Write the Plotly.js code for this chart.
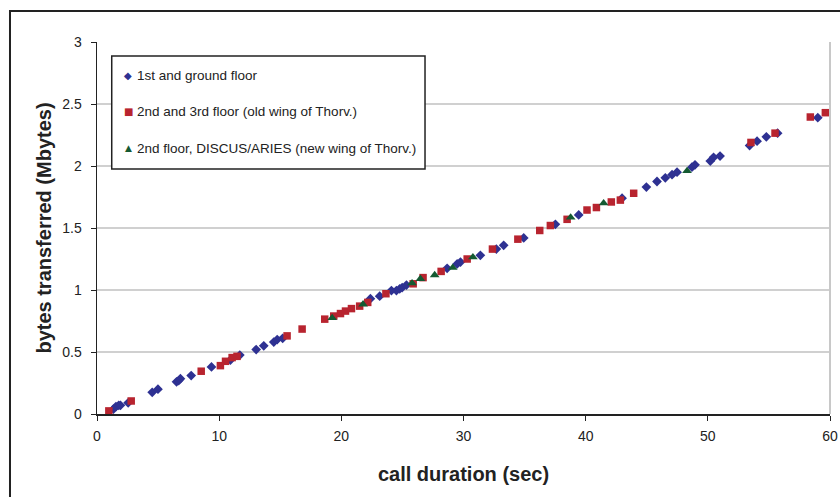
<!DOCTYPE html>
<html>
<head>
<meta charset="utf-8">
<script src="https://cdn.plot.ly/plotly-3.0.1.min.js"></script>
<style>html,body{margin:0;padding:0;background:#fff;}#chart{width:840px;height:497px;}</style>
</head>
<body>
<div id="chart"></div>
<script>
// Series 1: 1st and ground floor
const groundX = [1.35,1.55,1.78,1.92,2.55,4.52,4.99,6.51,6.69,6.83,7.71,9.37,10.92,11.69,13.03,13.65,14.47,14.75,15.2,22.38,23.14,24.1,24.51,24.78,24.98,25.33,28.66,29.48,29.75,31.38,32.69,33.29,34.93,37.52,39.43,42.98,44.97,45.84,46.52,47.07,47.48,48.7,48.95,50.2,50.47,51.0,53.42,54.03,54.79,55.71,59.0];
const groundY = [0.04,0.06,0.07,0.07,0.09,0.175,0.20,0.26,0.27,0.285,0.31,0.38,0.435,0.475,0.52,0.55,0.58,0.60,0.61,0.93,0.95,0.995,0.995,1.01,1.02,1.04,1.175,1.21,1.225,1.28,1.33,1.36,1.42,1.53,1.605,1.74,1.83,1.875,1.905,1.93,1.95,1.99,2.01,2.04,2.07,2.08,2.165,2.20,2.235,2.265,2.39];
// Series 2: 2nd and 3rd floor (old wing)
const oldWingX = [0.97,2.8,8.53,10.1,10.52,11.06,11.46,15.56,16.79,18.64,19.38,19.93,20.34,20.83,21.5,22.16,23.65,25.88,26.69,28.17,30.3,32.37,34.45,36.24,37.11,38.48,40.11,40.88,42.1,42.84,43.93,53.53,55.5,58.39,59.62];
const oldWingY = [0.025,0.105,0.345,0.39,0.425,0.455,0.465,0.63,0.685,0.765,0.79,0.81,0.83,0.85,0.87,0.90,0.97,1.05,1.10,1.15,1.25,1.33,1.41,1.48,1.52,1.57,1.645,1.665,1.71,1.725,1.78,2.19,2.265,2.395,2.43];
// Series 3: 2nd floor, DISCUS/ARIES (new wing)
const newWingX = [19.25,21.78,25.79,26.47,27.64,29.12,30.77,38.77,41.47,48.3];
const newWingY = [0.775,0.885,1.055,1.09,1.12,1.18,1.265,1.585,1.70,1.96];

const seriesNames = ["1st and ground floor","2nd and 3rd floor (old wing of Thorv.)","2nd floor, DISCUS/ARIES (new wing of Thorv.)"];
const seriesColors = ['#2E3192', '#B8242F', '#145A32'];
const legendGlyphs = ['\u25C6', '\u25A0', '\u25B2'];
const xTicks = [0,10,20,30,40,50,60];
const yTicks = [0,0.5,1,1.5,2,2.5,3];
const yTickText = ["0","0.5","1","1.5","2","2.5","3"];

const FONT = "Liberation Sans, Arial, sans-serif";
const traces = [
  {x: groundX, y: groundY, name: seriesNames[0], type: 'scatter', mode: 'markers',
   marker: {symbol: 'diamond', size: 7.5, color: seriesColors[0]}},
  {x: oldWingX, y: oldWingY, name: seriesNames[1], type: 'scatter', mode: 'markers',
   marker: {symbol: 'square', size: 7.5, color: seriesColors[1]}},
  {x: newWingX, y: newWingY, name: seriesNames[2], type: 'scatter', mode: 'markers',
   marker: {symbol: 'triangle-up', size: 8.5, color: seriesColors[2]}}
];

// Legend drawn as a boxed list (paper coordinates)
const legRowY = [0.9094, 0.8126, 0.7142];
const annotations = [];
seriesNames.forEach((name, i) => {
  annotations.push({xref: 'paper', yref: 'paper', x: 0.0423, y: legRowY[i], xanchor: 'center', yanchor: 'middle',
    text: legendGlyphs[i], showarrow: false, font: {family: 'DejaVu Sans', size: i === 2 ? 9 : 10, color: seriesColors[i]}});
  annotations.push({xref: 'paper', yref: 'paper', x: 0.0525, y: legRowY[i], xanchor: 'left', yanchor: 'middle',
    text: name, showarrow: false, font: {family: FONT, size: 13.5, color: '#222'}});
});

const layout = {
  width: 840, height: 497,
  margin: {l: 97, r: 10, t: 42, b: 83},
  paper_bgcolor: '#fff', plot_bgcolor: '#fff',
  font: {family: FONT, color: '#222', size: 14},
  showlegend: false,
  xaxis: {range: [0, 60], tickvals: xTicks, ticktext: xTicks.map(String),
    showgrid: false, zeroline: false, showline: true, linecolor: '#222', linewidth: 1.5,
    ticks: 'outside', ticklen: 5, tickcolor: '#222', tickfont: {size: 14, color: '#222'}, ticklabelstandoff: 4,
    title: {text: 'call duration (sec)', font: {size: 20, color: '#222', family: FONT, weight: 'bold'}, standoff: 23}},
  yaxis: {range: [0, 3], tickvals: yTicks, ticktext: yTickText,
    showgrid: true, gridcolor: '#d0d0d0', gridwidth: 1.5, zeroline: false,
    showline: true, linecolor: '#222', linewidth: 1.5,
    ticks: 'outside', ticklen: 5, tickcolor: '#222', tickfont: {size: 14, color: '#222'}, ticklabelstandoff: 6,
    title: {text: 'bytes transferred (Mbytes)', font: {size: 20, color: '#222', family: FONT, weight: 'bold'}, standoff: 5}},
  annotations: annotations,
  shapes: [
    {type: 'line', xref: 'paper', yref: 'paper', x0: 1, x1: 1, y0: 0, y1: 1, line: {color: '#c8c8c8', width: 2}},
    {type: 'rect', xref: 'paper', yref: 'paper', x0: 0.0201, x1: 0.4475, y0: 0.6586, y1: 0.9624,
     line: {color: '#222', width: 1.5}, fillcolor: '#fff', layer: 'above'},
    {type: 'rect', xref: 'paper', yref: 'paper', x0: -0.1187, x1: 1.03, y0: -0.24, y1: 1.0833,
     line: {color: '#222', width: 2}, fillcolor: 'rgba(0,0,0,0)', layer: 'above'}
  ]
};

Plotly.newPlot('chart', traces, layout, {displayModeBar: false, staticPlot: true});
</script>
</body>
</html>
